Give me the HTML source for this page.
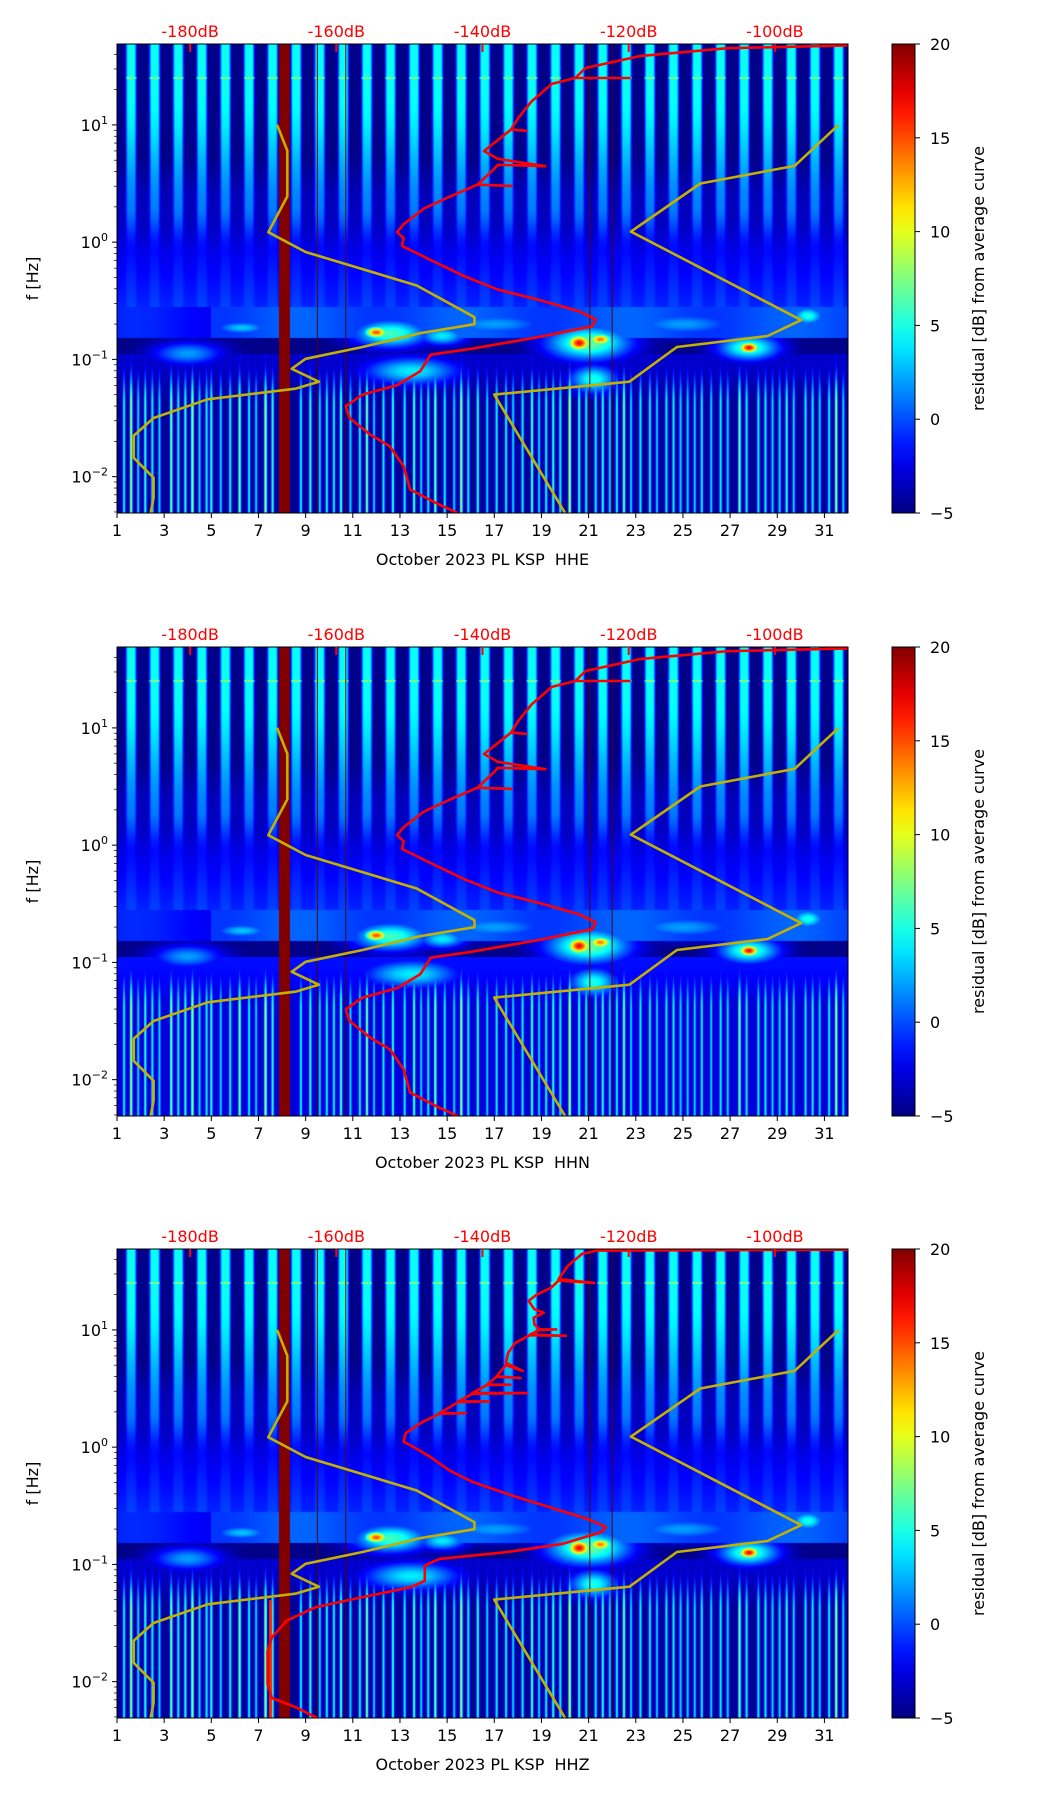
<!DOCTYPE html>
<html><head><meta charset="utf-8"><title>PL KSP October 2023 residual spectrograms</title>
<style>
html,body{margin:0;padding:0;background:#fff;}
#wrap{position:relative;width:1052px;height:1806px;overflow:hidden;background:#fff;}
canvas{position:absolute;}
svg{position:absolute;left:0;top:0;}
text{font-family:"DejaVu Sans","Liberation Sans",sans-serif;}
</style></head>
<body>
<div id="wrap">
<canvas id="c0" width="731" height="469" style="left:117px;top:44px"></canvas>
<canvas id="c1" width="731" height="469" style="left:117px;top:647px"></canvas>
<canvas id="c2" width="731" height="469" style="left:117px;top:1249px"></canvas>
<svg id="ov" width="1052" height="1806" xmlns="http://www.w3.org/2000/svg">
<defs><linearGradient id="jetg" x1="0" y1="1" x2="0" y2="0"></linearGradient></defs>
</svg>
</div>
<script>
// ---- data ----
const channels = ["HHE","HHN","HHZ"];
const dayTicks = [1,3,5,7,9,11,13,15,17,19,21,23,25,27,29,31];
const dbTicks = [-180,-160,-140,-120,-100];
const decadeTicks = [1,0,-1,-2];
const cbTicks = [-5,0,5,10,15,20];
const nlnmDb = [-168.1,-166.7,-166.7,-169.3,-164.2,-149.0,-141.1,-141.1,-148.5,-156.4,-164.2,-166.1,-162.4,-165.6,-177.6,-185.0,-187.7,-187.7,-185.0,-185.0,-185.4];
const nlnmLogF = [1.00,0.78,0.39,0.085,-0.084,-0.37,-0.64,-0.70,-0.776,-0.894,-0.995,-1.08,-1.19,-1.25,-1.34,-1.50,-1.65,-1.84,-2.01,-2.18,-2.31];
const nhnmDb = [-91.3,-97.3,-110.2,-119.7,-96.4,-101.0,-113.4,-119.9,-138.4,-128.7];
const nhnmLogF = [1.00,0.65,0.50,0.09,-0.665,-0.80,-0.894,-1.19,-1.30,-2.31];
const redHDb = [-89.9,-106.5,-118.5,-125.9,-127.3,-119.9,-127.3,-130.5,-133.3,-135.1,-136.1,-134.0,-136.1,-137.4,-139.8,-137.9,-131.4,-137.9,-138.4,-140.7,-136.0,-140.7,-144.4,-148.0,-150.8,-151.7,-150.8,-151.0,-147.1,-142.5,-137.9,-132.4,-126.8,-124.5,-125.0,-132.4,-141.6,-147.1,-148.5,-151.7,-156.4,-158.7,-158.2,-155.4,-152.7,-150.8,-149.9,-146.2,-143.4];
const redHLogF = [1.678,1.654,1.587,1.485,1.40,1.40,1.40,1.35,1.20,1.06,0.96,0.95,0.96,0.895,0.777,0.71,0.648,0.66,0.625,0.49,0.48,0.49,0.39,0.287,0.152,0.085,0.034,-0.033,-0.152,-0.29,-0.405,-0.49,-0.59,-0.658,-0.718,-0.81,-0.91,-0.96,-1.10,-1.22,-1.30,-1.40,-1.50,-1.64,-1.74,-1.91,-2.11,-2.23,-2.31];
const redZDb = [-89.8,-124.4,-126.4,-128.3,-129.6,-124.7,-129.6,-130.6,-132.6,-133.7,-132.9,-131.6,-133.0,-132.9,-132.2,-129.9,-132.2,-133.5,-128.6,-133.5,-135.5,-136.5,-136.8,-134.5,-136.8,-138.1,-134.8,-138.1,-139.4,-136.2,-139.4,-141.4,-133.9,-141.4,-143.3,-139.1,-143.3,-145.9,-142.3,-145.9,-148.5,-150.5,-150.8,-149.5,-147.2,-144.6,-141.4,-136.1,-130.9,-125.7,-123.1,-123.7,-129.0,-136.8,-145.9,-147.9,-147.9,-149.9,-157.7,-162.9,-166.8,-168.8,-169.4,-169.4,-168.8,-165.5,-162.6];
const redZLogF = [1.684,1.676,1.647,1.547,1.433,1.40,1.42,1.36,1.30,1.247,1.176,1.147,1.104,1.047,1.004,1.004,1.0,0.961,0.95,0.955,0.89,0.804,0.719,0.65,0.70,0.604,0.59,0.60,0.533,0.533,0.53,0.461,0.461,0.455,0.39,0.39,0.385,0.29,0.29,0.285,0.204,0.119,0.047,0.004,-0.081,-0.196,-0.296,-0.41,-0.51,-0.61,-0.68,-0.724,-0.824,-0.896,-0.953,-1.01,-1.14,-1.196,-1.296,-1.367,-1.48,-1.62,-1.74,-2.02,-2.14,-2.22,-2.31];
const blobDay  = [12.0,12.6,20.6,21.5,21.0,27.8,27.8,30.3,13.5,21.2,14.8,6.3,4.0,17.0,25.0];
const blobLogF = [-0.77,-0.78,-0.86,-0.83,-0.86,-0.90,-0.90,-0.63,-1.10,-1.17,-0.80,-0.73,-0.95,-0.70,-0.70];
const blobVal  = [15,6,17,14,7,17,6,5,4,5,4,3,2,2,2];
const blobWd   = [0.5,1.6,0.5,0.5,1.8,0.45,1.3,0.7,2.0,1.0,1.0,1.2,1.5,2.5,2.5];
const blobWdec = [0.05,0.12,0.07,0.05,0.15,0.05,0.11,0.08,0.12,0.12,0.08,0.06,0.1,0.1,0.1];
const streakDay = [1.3,1.6,1.9,2.2,2.5,2.8,3.3,3.6,3.9,4.2,4.5,4.8,5.0,5.4,5.8,6.2,6.6,6.9,7.3,7.6,8.8,9.2,9.6,9.9,10.2,10.5,10.9,11.3,11.6,11.9,12.3,12.7,13.2,13.6,13.9,14.2,14.5,14.9,15.3,15.6,15.9,16.3,16.7,17.1,17.5,17.8,18.2,18.6,18.9,19.2,19.5,19.8,20.2,20.6,20.9,21.3,21.6,21.9,22.2,22.5,22.8,23.2,23.6,23.9,24.3,24.6,24.9,25.2,25.5,25.8,26.2,26.6,26.9,27.4,27.7,28.2,28.5,28.8,29.1,29.4,29.7,30.2,30.5,30.8,31.2,31.5,31.8];
const streakVal = [5,9,4,6,5,4,8,5,6,9,4,5,6,4,5,8,5,4,9,6,5,6,4,5,5,7,4,5,8,4,5,6,5,7,4,5,8,5,4,9,5,6,4,5,5,4,5,7,4,5,6,5,10,6,5,5,6,4,5,8,4,5,5,4,5,5,4,4,4,5,4,5,4,8,5,5,5,4,4,6,4,5,5,4,5,9,4];
const gapStart = 7.85, gapEnd = 8.35;
const darkLineDays = [9.5,10.7,21.05,22.0];

// ---- axes geometry ----
const AX0 = 117, AX1 = 848, AH = 469, PANEL_TOP = [44,647,1249];
const DAY0 = 1, DAY1 = 32, DB0 = -190, DB1 = -90, LF0 = 1.69, LF1 = -2.31;
const xDay = d => AX0 + (d - DAY0) / (DAY1 - DAY0) * (AX1 - AX0);
const xDb = db => AX0 + (db - DB0) / (DB1 - DB0) * (AX1 - AX0);
const yLf = (p, lf) => PANEL_TOP[p] + (LF0 - lf) / (LF0 - LF1) * AH;

function jet(t){
  t = Math.max(0, Math.min(1, t));
  const c = x => Math.max(0, Math.min(1, x));
  return [c(1.5 - Math.abs(4*t-3)), c(1.5 - Math.abs(4*t-2)), c(1.5 - Math.abs(4*t-1))];
}
function sm(a, b, x){ const t = Math.max(0, Math.min(1, (x - a) / (b - a))); return t*t*(3-2*t); }
function val(p, d, lf){
  const phase = d - Math.floor(d);
  const s = 1 - sm(0.12, 0.3, Math.abs(phase - 0.6));
  const top = 4.6 - 3.5 * (1 - sm(0.2, 1.3, lf));
  const gap = -4.8 + 1.3 * (1 - sm(0.3, 0.8, lf));
  const upper = gap + s * (top - gap);
  const mid = -3.0 + (0.1 - lf) * 3 + s * 0.8;
  const band = 0.0 + 0.6 * Math.sin(d * 0.9) - (d < 5 ? 1.5 : 0);
  let v;
  if (lf > -0.55) {
    const w = sm(-0.1, 0.3, lf);
    v = w * upper + (1 - w) * mid;
  } else if (lf > -0.82) {
    v = band;
  } else if (lf > -0.95) {
    v = -4.8;
  } else {
    const ramp = sm(-1.0, -1.4, lf);
    const bg = (p === 1 ? -2.8 : -4.4) + (1 - ramp) * 1.2;
    v = bg;
    for (let i = 0; i < streakDay.length; i++) {
      const g = Math.exp(-Math.pow((d - streakDay[i]) / 0.06, 2));
      if (g > 0.01) v = Math.max(v, -4.5 + (streakVal[i] + 4.5) * g * (0.2 + 0.8 * ramp));
    }
  }
  for (let i = 0; i < blobDay.length; i++) {
    const g = Math.exp(-Math.pow((d - blobDay[i]) / blobWd[i], 2) - Math.pow((lf - blobLogF[i]) / blobWdec[i], 2));
    if (g > 0.01) v = Math.max(v, -5 + (blobVal[i] + 5) * g);
  }
  if (Math.abs(lf - 1.4) < 0.006 && s > 0.3) v += 3;
  if (d >= gapStart && d <= gapEnd) v = 20;
  if (p === 2 && Math.abs(d - 7.5) < 0.07 && lf < -1.3) v = Math.max(v, 16);
  return v;
}
for (let p = 0; p < 3; p++) {
  const cv = document.getElementById('c' + p);
  const ctx = cv.getContext('2d');
  const W = cv.width, H = cv.height;
  const img = ctx.createImageData(W, H);
  for (let py = 0; py < H; py++) {
    const lf = LF0 - (py + 0.5) / H * (LF0 - LF1);
    for (let px = 0; px < W; px++) {
      const d = DAY0 + (px + 0.5) / W * (DAY1 - DAY0);
      const c = jet((val(p, d, lf) + 5) / 25);
      const k = (py * W + px) * 4;
      img.data[k] = c[0]*255; img.data[k+1] = c[1]*255; img.data[k+2] = c[2]*255; img.data[k+3] = 255;
    }
  }
  ctx.putImageData(img, 0, 0);
}

// ---- overlay ----
const NS = "http://www.w3.org/2000/svg";
const svg = document.getElementById('ov');
function mk(tag, attrs, parent){
  const e = document.createElementNS(NS, tag);
  for (const k in attrs) e.setAttribute(k, attrs[k]);
  (parent || svg).appendChild(e);
  return e;
}
const grad = document.getElementById('jetg');
for (let i = 0; i <= 20; i++) {
  const c = jet(i / 20);
  mk('stop', {offset: (i*5) + '%', 'stop-color': 'rgb(' + c.map(x => Math.round(x*255)).join(',') + ')'}, grad);
}
function curve(p, dbs, lfs, color, w, name){
  let d = '';
  for (let i = 0; i < dbs.length; i++) d += (i ? 'L' : 'M') + xDb(dbs[i]).toFixed(1) + ',' + yLf(p, lfs[i]).toFixed(1);
  const e = mk('path', {d: d, fill: 'none', stroke: color, 'stroke-width': w, 'stroke-linejoin': 'round', 'clip-path': 'url(#clip' + p + ')'});
  
  
}
for (let p = 0; p < 3; p++) {
  const T = PANEL_TOP[p], B = T + AH;
  const cp = mk('clipPath', {id: 'clip' + p});
  mk('rect', {x: AX0, y: T, width: AX1 - AX0, height: AH}, cp);
  darkLineDays.forEach(dd => {
    const l = mk('line', {x1: xDay(dd), x2: xDay(dd), y1: T, y2: B, stroke: '#5a0000', 'stroke-width': 1.2, opacity: 0.8});
    
    
  });
  curve(p, nlnmDb, nlnmLogF, '#c4b000', 2.6, 'nlnm-curve');
  curve(p, nhnmDb, nhnmLogF, '#c4b000', 2.6, 'nhnm-curve');
  if (p === 2) curve(p, redZDb, redZLogF, '#ff0000', 2.6, 'average-psd-curve');
  else curve(p, redHDb, redHLogF, '#ff0000', 2.6, 'average-psd-curve');
  const fr = mk('rect', {x: AX0, y: T, width: AX1 - AX0, height: AH, fill: 'none', stroke: '#000', 'stroke-width': 1});
  
  
  dayTicks.forEach(dd => {
    const x = xDay(dd);
    mk('line', {x1: x, x2: x, y1: B, y2: B + 5, stroke: '#000', 'stroke-width': 1});
    const t = mk('text', {x: x, y: B + 23, 'font-size': 16, 'text-anchor': 'middle', fill: '#000'});
    t.textContent = dd;
    
    
  });
  const xl = mk('text', {x: (AX0 + AX1) / 2, y: B + 52, 'font-size': 16, 'text-anchor': 'middle', fill: '#000'});
  xl.textContent = 'October 2023 PL KSP \u00a0' + channels[p];
  
  
  dbTicks.forEach(db => {
    const x = xDb(db);
    mk('line', {x1: x, x2: x, y1: T, y2: T + 8, stroke: '#ff0000', 'stroke-width': 2});
    const t = mk('text', {x: x, y: T - 7, 'font-size': 16, 'text-anchor': 'middle', fill: '#ff0000'});
    t.textContent = db + 'dB';
    
    
  });
  for (let dec = -3; dec <= 1; dec++) {
    for (let m = 1; m <= 9; m++) {
      const lf = dec + Math.log10(m);
      if (lf > LF0 || lf < LF1) continue;
      const y = yLf(p, lf);
      mk('line', {x1: AX0 - (m === 1 ? 5 : 3), x2: AX0, y1: y, y2: y, stroke: '#000', 'stroke-width': m === 1 ? 1 : 0.7});
    }
  }
  decadeTicks.forEach(e => {
    const y = yLf(p, e);
    const t = mk('text', {x: AX0 - 9, y: y + 6, 'font-size': 16, 'text-anchor': 'end', fill: '#000'});
    const a = mk('tspan', {}, t); a.textContent = '10';
    const b = mk('tspan', {dy: -7, 'font-size': 11}, t); b.textContent = e < 0 ? '\u2212' + (-e) : '' + e;
    
    
  });
  const yl = mk('text', {x: 0, y: 0, 'font-size': 16, 'text-anchor': 'middle', fill: '#000', transform: 'translate(38,' + (T + AH/2) + ') rotate(-90)'});
  yl.textContent = 'f [Hz]';
  
  
  const cb = mk('rect', {x: 892, y: T, width: 23, height: AH, fill: 'url(#jetg)', stroke: '#000', 'stroke-width': 1});
  
  
  cbTicks.forEach(v => {
    const y = T + AH - (v + 5) / 25 * AH;
    mk('line', {x1: 915, x2: 920, y1: y, y2: y, stroke: '#000', 'stroke-width': 1});
    const t = mk('text', {x: 930, y: y + 6, 'font-size': 16, fill: '#000'});
    t.textContent = v < 0 ? '\u2212' + (-v) : v;
    
    
  });
  const cl = mk('text', {x: 0, y: 0, 'font-size': 16, 'text-anchor': 'middle', fill: '#000', transform: 'translate(984,' + (T + AH/2) + ') rotate(-90)'});
  cl.textContent = 'residual [dB] from average curve';
  
  
}
</script>
</body></html>
